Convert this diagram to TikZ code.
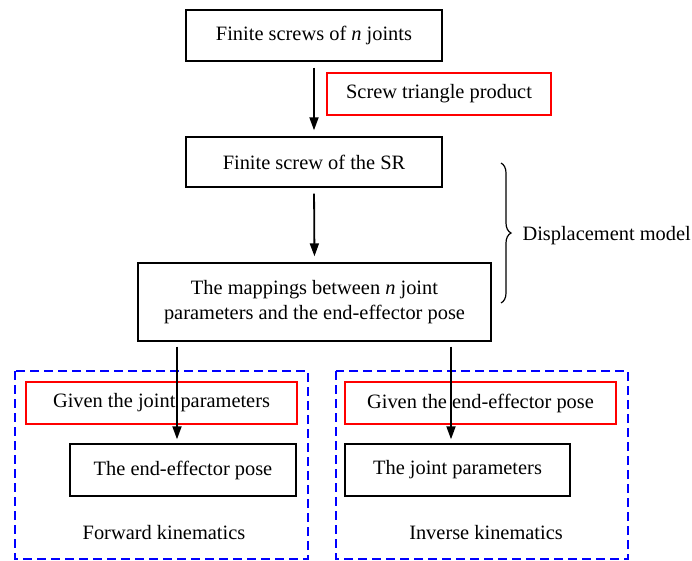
\documentclass[tikz,border=0pt]{standalone}
\usepackage{fontspec}
\setmainfont{Liberation Serif}
\usetikzlibrary{arrows.meta,decorations.pathreplacing,calc}
\begin{document}
\begin{tikzpicture}[x=1pt,y=-1pt,
  every node/.style={font=\fontsize{20.4}{25}\selectfont},
  blk/.style={draw=black,line width=1.4pt,inner sep=0pt,align=center},
  redbox/.style={draw=red,line width=1.1pt,inner sep=0pt,align=center},
  dbox/.style={draw=blue,line width=1.2pt,dash pattern=on 9pt off 5pt},
  arr/.style={line width=1.8pt,-{Triangle[length=13pt,width=9pt]}}]
\useasboundingbox (0,0) rectangle (692,561);
\node[blk,minimum width=256pt,minimum height=51pt] (fs) at (314,35.5) {Finite screws of \textit{n} joints};
\node[redbox,minimum width=224pt,minimum height=42pt] (stp) at (439,94) {Screw triangle product};
\node[blk,minimum width=256pt,minimum height=50pt] (sr) at (314,162) {Finite screw of the SR};
\node[blk,minimum width=353pt,minimum height=78pt] (map) at (314.5,302) {The mappings between \textit{n} joint\\parameters and the end-effector pose};
\draw[dbox] (15,371) rectangle (308,559);
\draw[dbox] (336,371) rectangle (628,559);
\node[redbox,minimum width=271pt,minimum height=42pt] (gj) at (161.5,403) {Given the joint parameters};
\node[redbox,minimum width=271pt,minimum height=42pt] (ge) at (480.5,403) {Given the end-effector pose};
\node[blk,minimum width=226pt,minimum height=52pt] (ee) at (183,470) {The end-effector pose};
\node[blk,minimum width=225pt,minimum height=52pt] (jp) at (457.5,470) {The joint parameters};
\node (fk) at (164,533) {Forward kinematics};
\node (ik) at (486,533) {Inverse kinematics};
\coordinate (lx) at (177,0);
\coordinate (rx) at (451,0);
\draw[arr,shorten <=6pt,shorten >=6pt] (fs.south) -- (sr.north);
\draw[arr,shorten <=6pt,shorten >=6pt] (sr.south) -- (map.north);
\draw[arr,shorten <=5pt,shorten >=4pt] (map.south -| lx) -- (ee.north -| lx);
\draw[arr,shorten <=5pt,shorten >=4pt] (map.south -| rx) -- (jp.north -| rx);
\coordinate (bt) at (501,163);
\coordinate (bb) at (501,303);
\draw[line width=1.2pt,decorate,decoration={brace,amplitude=10pt}] (bt) -- (bb);
\node[anchor=west] (dm) at (519,236) {Displacement model};
\end{tikzpicture}
\end{document}
